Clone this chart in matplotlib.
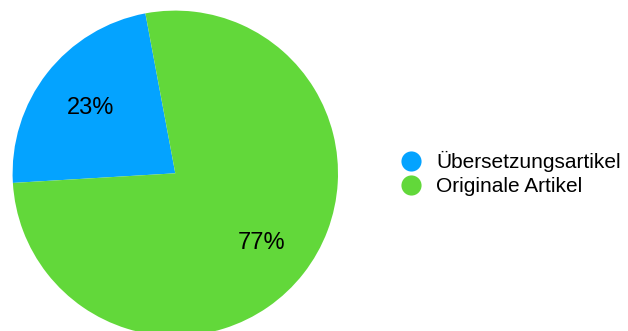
import matplotlib
matplotlib.use("Agg")
import matplotlib.pyplot as plt
import matplotlib.transforms as mtransforms
from matplotlib.lines import Line2D

plt.rcParams['font.family'] = ['Liberation Sans', 'DejaVu Sans']

labels = ["Übersetzungsartikel", "Originale Artikel"]
values = [23, 77]
colors = ["#04A3FF", "#62D83A"]

W, H = 628, 331
fig = plt.figure(figsize=(W / 100, H / 100), dpi=100)

# pie area: centre and radius in pixels
cx, cy, r = 175.3, 331 - 173.3, 162.7
ax = fig.add_axes([(cx - r) / W, (cy - r) / H, 2 * r / W, 2 * r / H])

wedges, texts, autotexts = ax.pie(
    values, colors=colors, startangle=100.6, counterclock=True,
    autopct=lambda p: f"{p:.0f}%", pctdistance=0.67,
    wedgeprops=dict(linewidth=0), textprops=dict(fontsize=17, color="black"),
)
# nudge the percentage labels slightly down so the digits sit centred
for t in autotexts:
    t.set_transform(mtransforms.offset_copy(ax.transData, fig=fig,
                                            x=0.5, y=-1.6, units="points"))
ax.set_xlim(-1, 1)
ax.set_ylim(-1, 1)
ax.set_aspect("equal")
ax.axis("off")

handles = [Line2D([], [], linestyle="none", marker="o", markersize=14.5,
                  markerfacecolor=c, markeredgewidth=0) for c in colors]
fig.legend(handles, labels, loc="center left",
           bbox_to_anchor=(401 / W, 1 - 173.5 / H), frameon=False,
           fontsize=15, handlelength=1.0, handletextpad=0.7,
           labelspacing=0.22, borderpad=0, borderaxespad=0)

fig.savefig("out.png", dpi=100)
